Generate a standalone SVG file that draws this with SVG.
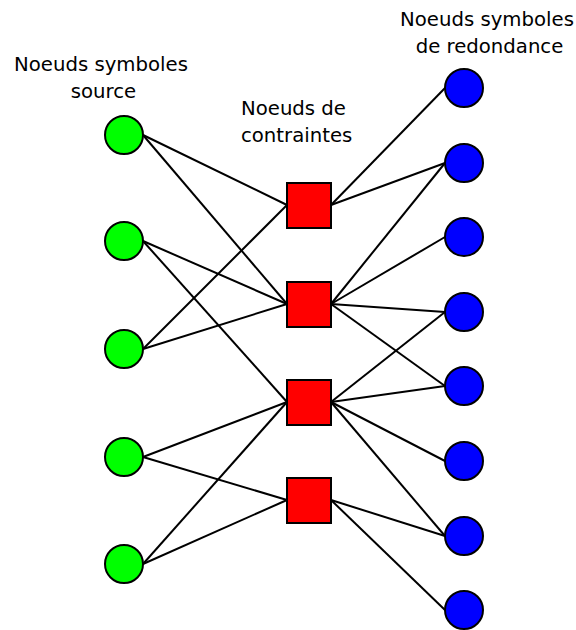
<svg xmlns="http://www.w3.org/2000/svg" width="576" height="630" viewBox="0 0 576 630">
<style>
.lbl{font-family:"DejaVu Sans",sans-serif;font-size:19.7px;fill:#000}
.g{fill:#00ff00;stroke:#000;stroke-width:2}
.b{fill:#0000ff;stroke:#000;stroke-width:2}
.r{fill:#ff0000;stroke:#000;stroke-width:2}
#edges line{stroke:#000;stroke-width:2}
</style>
<rect width="576" height="630" fill="#fff"/>
<g id="edges">
<line x1="143" y1="135" x2="287" y2="205"/>
<line x1="143" y1="135" x2="287" y2="304"/>
<line x1="143" y1="241" x2="287" y2="304"/>
<line x1="143" y1="241" x2="287" y2="402"/>
<line x1="143" y1="349" x2="287" y2="205"/>
<line x1="143" y1="349" x2="287" y2="304"/>
<line x1="143" y1="457" x2="287" y2="402"/>
<line x1="143" y1="457" x2="287" y2="500"/>
<line x1="143" y1="564" x2="287" y2="402"/>
<line x1="143" y1="564" x2="287" y2="500"/>
<line x1="331" y1="205" x2="445" y2="88"/>
<line x1="331" y1="205" x2="445" y2="163"/>
<line x1="331" y1="304" x2="445" y2="163"/>
<line x1="331" y1="304" x2="445" y2="237"/>
<line x1="331" y1="304" x2="445" y2="312"/>
<line x1="331" y1="304" x2="445" y2="386"/>
<line x1="331" y1="402" x2="445" y2="312"/>
<line x1="331" y1="402" x2="445" y2="386"/>
<line x1="331" y1="402" x2="445" y2="461"/>
<line x1="331" y1="402" x2="445" y2="536"/>
<line x1="331" y1="500" x2="445" y2="536"/>
<line x1="331" y1="500" x2="445" y2="610"/>
</g>
<g id="s1"><circle class="g" cx="124" cy="135" r="19"/></g>
<g id="s2"><circle class="g" cx="124" cy="241" r="19"/></g>
<g id="s3"><circle class="g" cx="124" cy="349" r="19"/></g>
<g id="s4"><circle class="g" cx="124" cy="457" r="19"/></g>
<g id="s5"><circle class="g" cx="124" cy="564" r="19"/></g>
<g id="c1"><rect class="r" x="287" y="183" width="44" height="45"/></g>
<g id="c2"><rect class="r" x="287" y="282" width="44" height="45"/></g>
<g id="c3"><rect class="r" x="287" y="380" width="44" height="45"/></g>
<g id="c4"><rect class="r" x="287" y="478" width="44" height="45"/></g>
<g id="p1"><circle class="b" cx="464" cy="88" r="19"/></g>
<g id="p2"><circle class="b" cx="464" cy="163" r="19"/></g>
<g id="p3"><circle class="b" cx="464" cy="237" r="19"/></g>
<g id="p4"><circle class="b" cx="464" cy="312" r="19"/></g>
<g id="p5"><circle class="b" cx="464" cy="386" r="19"/></g>
<g id="p6"><circle class="b" cx="464" cy="461" r="19"/></g>
<g id="p7"><circle class="b" cx="464" cy="536" r="19"/></g>
<g id="p8"><circle class="b" cx="464" cy="610" r="19"/></g>
<g id="labels">
<text class="lbl" x="101" y="71" text-anchor="middle">Noeuds symboles</text>
<text class="lbl" x="103.5" y="97.5" text-anchor="middle">source</text>
<text class="lbl" x="241" y="115">Noeuds de</text>
<text class="lbl" x="241" y="142">contraintes</text>
<text class="lbl" x="487" y="25.5" text-anchor="middle">Noeuds symboles</text>
<text class="lbl" x="489.5" y="52.5" text-anchor="middle">de redondance</text>
</g>
</svg>
